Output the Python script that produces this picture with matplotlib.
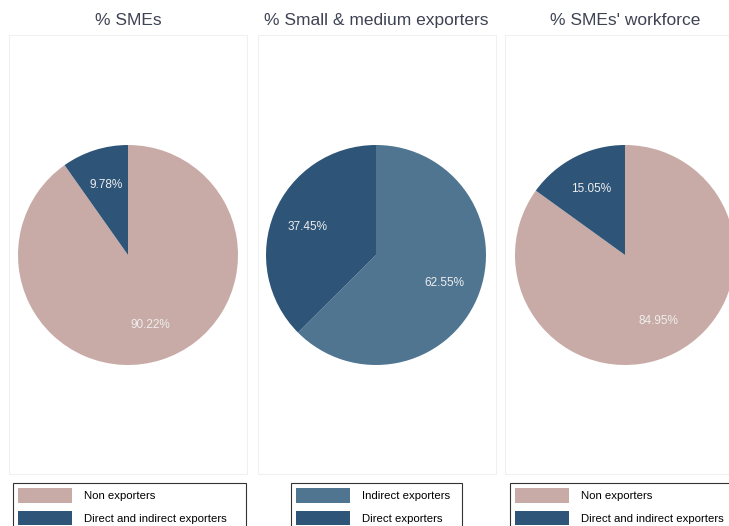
import matplotlib
matplotlib.use("Agg")
import matplotlib.pyplot as plt
from matplotlib.patches import Patch, Rectangle

W, H = 729, 526

titles = ["% SMEs", "% Small & medium exporters", "% SMEs' workforce"]
labels_1 = ["Non exporters", "Direct and indirect exporters"]
values_1 = [90.22, 9.78]
labels_2 = ["Indirect exporters", "Direct exporters"]
values_2 = [62.55, 37.45]
labels_3 = ["Non exporters", "Direct and indirect exporters"]
values_3 = [84.95, 15.05]

pink = "#c8aba6"
dark = "#2e5578"
mid = "#507590"

colors_1 = [pink, dark]
colors_2 = [mid, dark]
colors_3 = [pink, dark]

# pixel layout (left, right) of each panel and pie centre x
panels = [(9, 247, 128), (258, 496, 376), (505, 746, 625)]
legend_box = [(13, 233), (291, 171), (510, 224)]
pie_cy, pie_r = 255, 110

fig = plt.figure(figsize=(W / 100, H / 100), dpi=100)


def fx(px):
    return px / W


def fy(py):
    return 1 - py / H


data = [(labels_1, values_1, colors_1), (labels_2, values_2, colors_2),
        (labels_3, values_3, colors_3)]

for i, (labs, vals, cols) in enumerate(data):
    left, right, cx = panels[i]
    # faint panel frame
    fig.patches.append(Rectangle((fx(left), fy(474)), fx(right - left), 439 / H,
                                 transform=fig.transFigure, fill=False,
                                 edgecolor="#f0f0f0", linewidth=0.8))
    fig.text(fx(cx), fy(20.5), titles[i], ha="center", va="center",
             fontsize=12.5, color="#3e4354", family="Liberation Sans")

    ax = fig.add_axes([fx(cx - pie_r), fy(pie_cy + pie_r), fx(2 * pie_r), 2 * pie_r / H])
    wedges, _, autotexts = ax.pie(vals, colors=cols, startangle=90, counterclock=False,
                                  autopct="%.2f%%", pctdistance=0.67,
                                  wedgeprops=dict(linewidth=0),
                                  textprops=dict(color="#eeeeee", fontsize=8.5,
                                                 family="Liberation Sans"))
    ax.set_xlim(-1, 1)
    ax.set_ylim(-1, 1)
    ax.set_aspect("equal")
    ax.axis("off")

    lx, lw = legend_box[i]
    handles = [Patch(facecolor=c, edgecolor="none") for c in cols]
    leg = fig.legend(handles, labs, loc="upper left", mode="expand",
                     bbox_to_anchor=(fx(lx), fy(483) - 0.001, fx(lw), 0.001),
                     frameon=True, fancybox=False,
                     handlelength=4.7, handleheight=1.59, handletextpad=1.1,
                     labelspacing=0.7, borderpad=0.45, borderaxespad=0,
                     prop=dict(family="Liberation Sans", size=8.2))
    leg.get_frame().set_edgecolor("black")
    leg.get_frame().set_linewidth(0.8)

fig.savefig("out.png", dpi=100)
